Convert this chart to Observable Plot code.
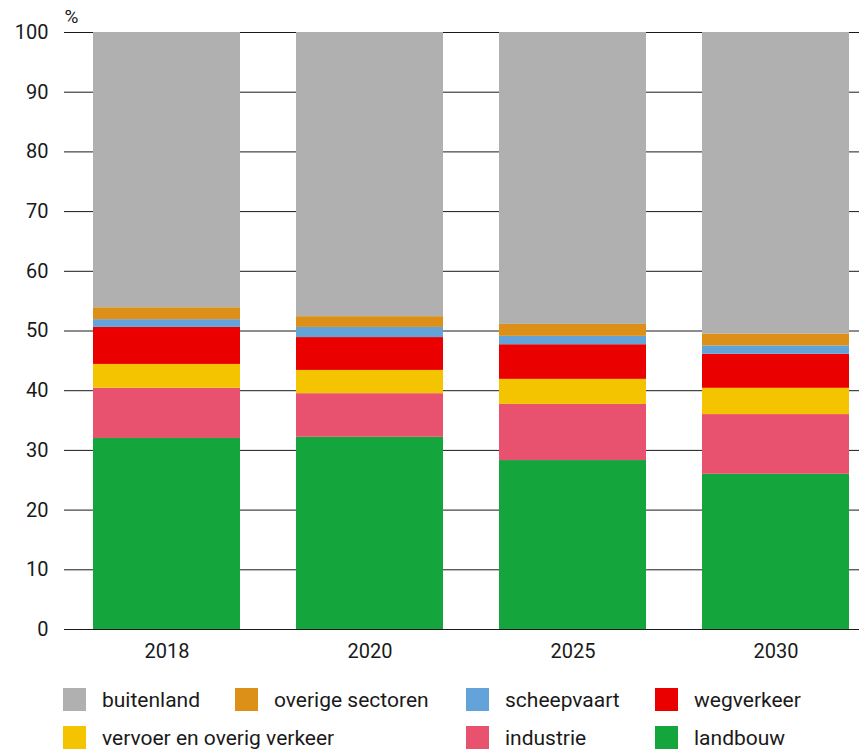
<!DOCTYPE html>
<html>
<head>
<meta charset="utf-8">
<script src="https://cdn.jsdelivr.net/npm/d3@7"></script>
<script src="https://cdn.jsdelivr.net/npm/@observablehq/plot@0.6"></script>
<style>
  html, body { margin: 0; padding: 0; background: #fff; }
  body { font-family: Roboto, "Liberation Sans", sans-serif; color: #1a1a1a; width: 859px; }
  #legend {
    display: grid;
    grid-template-columns: 172px 231px 189px auto;
    row-gap: 15px;
    padding-left: 63px;
    margin-top: 18px;
    font-size: 21px;
  }
  .item { display: flex; align-items: center; height: 23px; white-space: nowrap; }
  .sw { width: 23px; height: 23px; margin-right: 16px; flex: none; }
  .span2 { grid-column: span 2; }
</style>
</head>
<body>
<div id="chart"></div>
<div id="legend"></div>
<script>
const years = ["2018", "2020", "2025", "2030"];
// stacking order: bottom first
const categories = ["landbouw", "industrie", "vervoer en overig verkeer", "wegverkeer", "scheepvaart", "overige sectoren", "buitenland"];
const colors = ["#14a53c", "#e9526e", "#f5c400", "#eb0000", "#64a2da", "#dc9018", "#b0b0b0"];

const landbouw   = [32.0, 32.2, 28.3, 26.0];
const industrie  = [8.4, 7.3, 9.4, 10.0];
const vervoer    = [4.0, 3.9, 4.2, 4.4];
const wegverkeer = [6.2, 5.5, 5.8, 5.7];
const scheepvaart = [1.3, 1.7, 1.4, 1.4];
const overige    = [2.0, 1.8, 2.0, 2.0];
const buitenland = [46.1, 47.6, 48.9, 50.5];

const yTicks = [0, 10, 20, 30, 40, 50, 60, 70, 80, 90, 100];

const series = [landbouw, industrie, vervoer, wegverkeer, scheepvaart, overige, buitenland];
const data = [];
categories.forEach((c, i) => years.forEach((y, j) => data.push({year: y, category: c, value: series[i][j]})));

const chart = Plot.plot({
  width: 859,
  height: 670,
  marginLeft: 64,
  marginRight: 0,
  marginTop: 32,
  marginBottom: 41,
  style: {fontFamily: "Roboto, 'Liberation Sans', sans-serif", fontSize: "20px", color: "#1a1a1a"},
  x: {domain: years, range: [82, 860], paddingInner: 0.278, paddingOuter: 0.049, label: null},
  y: {domain: [0, 100], label: null},
  color: {domain: categories, range: colors},
  marks: [
    Plot.ruleY(yTicks, {stroke: "#1a1a1a", strokeWidth: 1}),
    Plot.barY(data, {x: "year", y: "value", fill: "category", order: categories}),
    Plot.axisY({ticks: yTicks, tickSize: 0, tickPadding: 16, label: null, fontSize: 20}),
    Plot.axisX({tickSize: 0, tickPadding: 14, label: null, fontSize: 20}),
    Plot.text(["%"], {frameAnchor: "top-left", dx: 0, dy: -23, textAnchor: "start", lineAnchor: "top", fontSize: 19})
  ]
});
document.getElementById("chart").appendChild(chart);

// legend
const legendOrder = ["buitenland", "overige sectoren", "scheepvaart", "wegverkeer", "vervoer en overig verkeer", null, "industrie", "landbouw"];
const legend = document.getElementById("legend");
legendOrder.forEach(name => {
  if (name === null) return;
  const div = document.createElement("div");
  div.className = "item" + (name === "vervoer en overig verkeer" ? " span2" : "");
  const sw = document.createElement("span");
  sw.className = "sw";
  sw.style.background = colors[categories.indexOf(name)];
  const t = document.createElement("span");
  t.textContent = name;
  div.appendChild(sw);
  div.appendChild(t);
  legend.appendChild(div);
});
</script>
</body>
</html>
